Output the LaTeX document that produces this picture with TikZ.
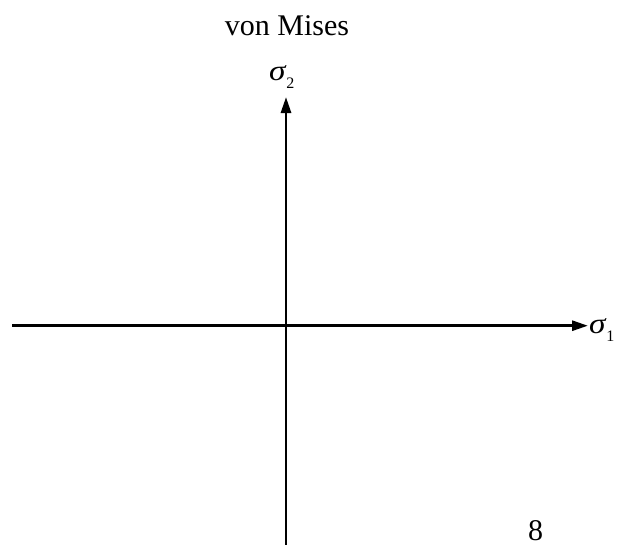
\documentclass[tikz,border=0pt]{standalone}
\usepackage{fontspec}
\setmainfont{Liberation Serif}
\usetikzlibrary{arrows.meta}
\tikzset{
  axis/.style={line width=2.8pt,-{Triangle[length=16pt,width=10pt]}},
  lbl/.style={inner sep=0pt,outer sep=0pt,font=\fontsize{30}{32}\selectfont},
  sym/.style={inner sep=0pt,outer sep=0pt,font=\fontsize{29}{30}\selectfont},
}
\newcommand{\sigm}{\scalebox{1.15}[1]{\itshape σ}}
\newcommand{\sub}[1]{\raisebox{-8pt}{\fontsize{16}{18}\selectfont #1}}
\begin{document}
\begin{tikzpicture}[x=1pt,y=-1pt]
\useasboundingbox (0,0) rectangle (634,544);
\coordinate (xl) at (12,325.7);
\coordinate (xr) at (588,325.7);
\coordinate (yb) at (286,546);
\coordinate (yt) at (286,97);
\draw[axis] (xl) -- (xr);
\draw[axis] (yb) -- (yt);
\node[sym,anchor=base west] (s1) at (589,333) {\sigm\kern1pt\sub{1}};
\node[sym,anchor=base west] (s2) at (269,80.5) {\sigm\kern1pt\sub{2}};
\node[lbl,anchor=base] (title) at (287,35) {von Mises};
\node[lbl,anchor=base] (pg) at (535.5,540) {8};
\end{tikzpicture}
\end{document}
